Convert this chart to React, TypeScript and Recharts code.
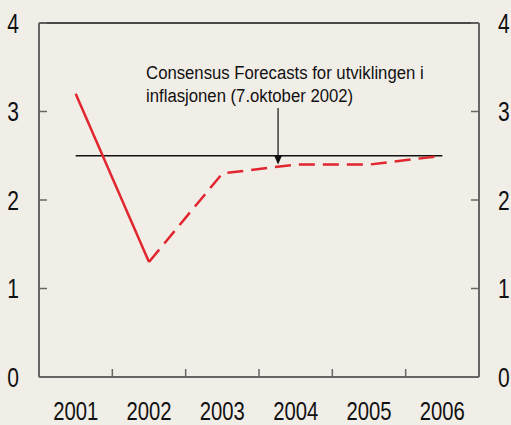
import React from 'react';
import { LineChart, Line, XAxis, YAxis, ReferenceLine } from 'recharts';

// KPI-vekst, prosent
const years = ['2001', '2002', '2003', '2004', '2005', '2006'];
const actual = [3.2, 1.3, null, null, null, null];
const projection = [null, 1.3, 2.3, 2.4, 2.4, 2.5];
const consensus = [2.5, 2.5, 2.5, 2.5, 2.5, 2.5];
const yTicks = [0, 1, 2, 3, 4];
const noteLines = ['Consensus Forecasts for utviklingen i', 'inflasjonen (7.oktober 2002)'];
const arrow = { x: 3.26, from: 3.04, to: 2.4 };

const data = years.map((year, i) => ({
  year,
  actual: actual[i],
  projection: projection[i],
  consensus: consensus[i],
}));

const font = "'Liberation Sans', Arial, sans-serif";
const axisColor = '#666666';
const red = '#e2262f';
const labelGap = 25;

// narrow look: squeeze the regular sans horizontally
const YearTick = (props: any) => {
  const { x, y, payload, index } = props;
  const edge = payload.coordinate + payload.offset;
  const axisY = y - labelGap;
  return (
    <g>
      {index < years.length - 1 && (
        <line x1={edge} y1={axisY} x2={edge} y2={axisY - 8} stroke={axisColor} strokeWidth={1.5} />
      )}
      <text
        transform={`translate(${x} ${y}) scale(0.78 1)`}
        textAnchor="middle"
        dy="0.71em"
        fontFamily={font}
        fontSize={26}
        fill="#111"
      >
        {payload.value}
      </text>
    </g>
  );
};

const ValueTick = (props: any) => {
  const { x, y, payload, textAnchor } = props;
  return (
    <text
      transform={`translate(${x} ${y}) scale(0.78 1)`}
      textAnchor={textAnchor}
      dy="0.355em"
      fontFamily={font}
      fontSize={27}
      fill="#111"
    >
      {payload.value}
    </text>
  );
};

const ArrowNote = (props: any) => {
  const { x1, y1, x2, y2 } = props;
  return (
    <g>
      <text transform={`translate(${x1 - 132} ${y1 - 29}) scale(0.88 1)`} fontFamily={font} fontSize={19} fill="#111">
        {noteLines[0]}
      </text>
      <text transform={`translate(${x1 - 132} ${y1 - 6}) scale(0.88 1)`} fontFamily={font} fontSize={19} fill="#111">
        {noteLines[1]}
      </text>
      <line x1={x1} y1={y1} x2={x2} y2={y2 - 8} stroke="#111" strokeWidth={1.2} />
      <polygon points={`${x2 - 4},${y2 - 9} ${x2 + 4},${y2 - 9} ${x2},${y2}`} fill="#111" />
    </g>
  );
};

export default function App() {
  return (
    <div style={{ position: 'absolute', left: 0, top: 0, width: 511, height: 425, background: '#f1eee8' }}>
      <LineChart width={511} height={425} data={data} margin={{ top: 22, right: 0, bottom: 0, left: 0 }}>
        <XAxis xAxisId="grid" type="number" dataKey={() => 0} domain={[0, 6]} allowDataOverflow hide />
        {/* top frame line */}
        <XAxis
          xAxisId="top"
          orientation="top"
          type="number"
          domain={[0, 6]}
          allowDataOverflow
          ticks={[0]}
          height={1}
          tickLine={false}
          tickSize={0}
          tickMargin={0}
          tickFormatter={() => ''}
          axisLine={{ stroke: '#111', strokeWidth: 1.5 }}
        />
        <XAxis
          xAxisId="cat"
          dataKey="year"
          scale="band"
          height={48}
          interval={0}
          tickLine={false}
          tickSize={0}
          tickMargin={labelGap}
          axisLine={{ stroke: axisColor, strokeWidth: 2 }}
          tick={<YearTick />}
        />
        <YAxis
          yAxisId="left"
          domain={[0, 4]}
          ticks={yTicks}
          allowDataOverflow
          width={39}
          tickSize={-8}
          tickMargin={28}
          axisLine={{ stroke: axisColor, strokeWidth: 2 }}
          tickLine={{ stroke: axisColor, strokeWidth: 1.5 }}
          tick={<ValueTick />}
        />
        <YAxis
          yAxisId="right"
          orientation="right"
          domain={[0, 4]}
          ticks={yTicks}
          allowDataOverflow
          width={32}
          tickSize={-8}
          tickMargin={27}
          axisLine={{ stroke: axisColor, strokeWidth: 2 }}
          tickLine={{ stroke: axisColor, strokeWidth: 1.5 }}
          tick={<ValueTick />}
        />
        <Line
          xAxisId="cat"
          yAxisId="left"
          dataKey="consensus"
          type="linear"
          stroke="#111"
          strokeWidth={1.3}
          dot={false}
          isAnimationActive={false}
        />
        <Line
          xAxisId="cat"
          yAxisId="left"
          dataKey="actual"
          type="linear"
          stroke={red}
          strokeWidth={2.5}
          dot={false}
          isAnimationActive={false}
        />
        <Line
          xAxisId="cat"
          yAxisId="left"
          dataKey="projection"
          type="linear"
          stroke={red}
          strokeWidth={2.5}
          strokeDasharray="16 8"
          dot={false}
          isAnimationActive={false}
        />
        <ReferenceLine
          xAxisId="grid"
          yAxisId="left"
          segment={[
            { x: arrow.x, y: arrow.from },
            { x: arrow.x, y: arrow.to },
          ]}
          shape={ArrowNote}
        />
      </LineChart>
    </div>
  );
}
